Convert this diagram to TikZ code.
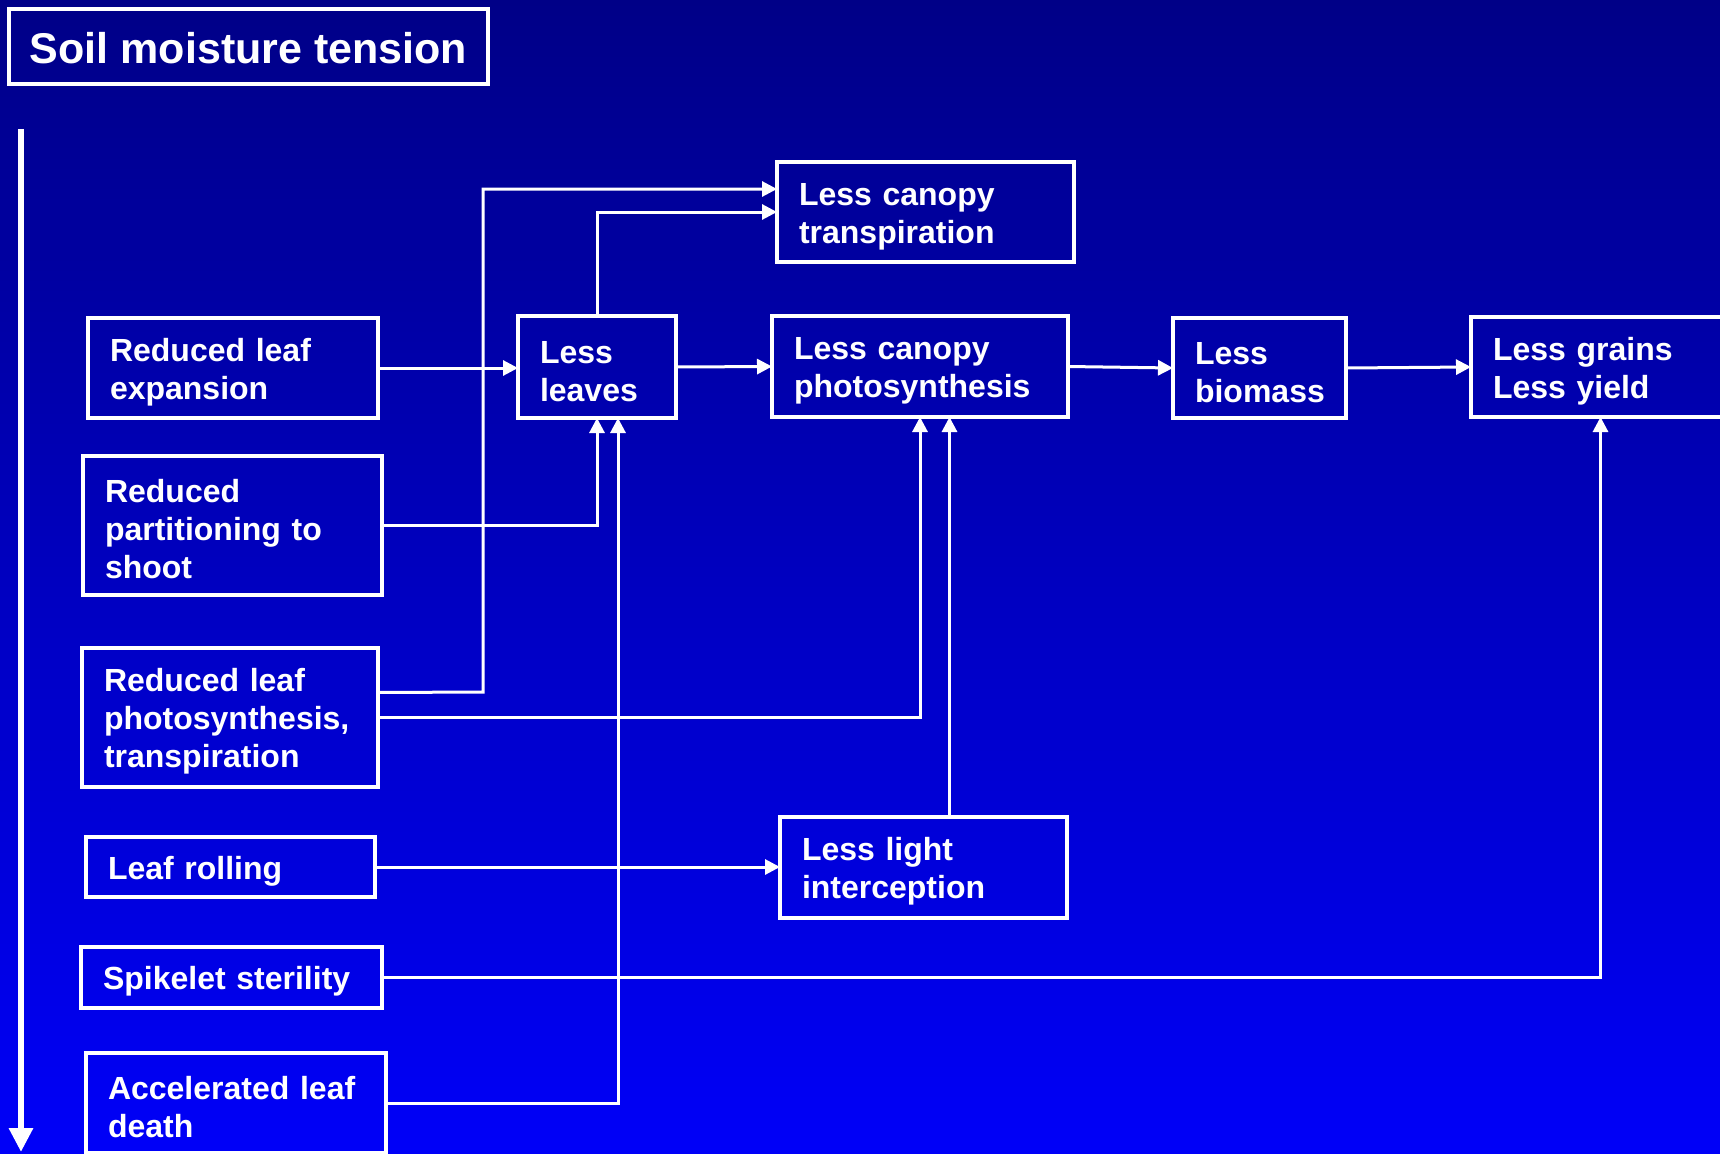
\documentclass[tikz,border=0pt]{standalone}
\usepackage{fontspec}
\setmainfont{Liberation Sans}
\usetikzlibrary{arrows.meta}
\definecolor{bgtop}{RGB}{0,0,135}
\definecolor{bgbot}{RGB}{0,0,248}
\tikzset{
  box/.style={draw=white, line width=3.5pt, text=white, outer sep=0pt,
    inner xsep=22pt, inner ysep=0pt, align=left,
    font=\fontsize{32}{38}\selectfont\bfseries,
    execute at begin node={\rule{0pt}{31pt}}},
  arr/.style={draw=white, line width=3pt, -{Triangle[width=15pt,length=15pt]}},
  bigarr/.style={draw=white, line width=6.5pt, -{Triangle[width=23pt,length=24pt]}},
}
\begin{document}
\begin{tikzpicture}[x=1pt,y=-1pt]
\useasboundingbox (0,0) rectangle (1720,1153);
\shade[top color=bgtop, bottom color=bgbot] (0,0) rectangle (1720,1153);

% title
\node[draw=white, line width=3.5pt, text=white, outer sep=0pt,
  minimum width=479pt, minimum height=75pt,
  font=\fontsize{43}{50}\selectfont\bfseries,
  execute at begin node={\rule{0pt}{35pt}}] (title) at (248.5,46.5) {Soil moisture tension};

% left arrow
\coordinate (ltop) at (21,129);
\coordinate (lbot) at (21,1152);
\draw[bigarr] (ltop) -- (lbot);

% left column
\node[box, minimum width=290pt, minimum height=100pt, text width=246pt] (rle) at (233,368) {Reduced leaf\\expansion};
\node[box, minimum width=299pt, minimum height=139pt, text width=255pt] (rpts) at (232.5,525.5) {Reduced\\partitioning to\\shoot};
\node[box, minimum width=296pt, minimum height=139pt, text width=252pt] (rlp) at (230,717.5) {Reduced leaf\\photosynthesis,\\transpiration};
\node[box, minimum width=289pt, minimum height=60pt, text width=245pt] (lr) at (230.5,867) {Leaf rolling};
\node[box, minimum width=301pt, minimum height=61pt, text width=257pt] (ss) at (231.5,977.5) {Spikelet sterility};
\node[box, minimum width=300pt, minimum height=100pt, text width=256pt] (ald) at (236,1103) {Accelerated leaf\\death};

% other boxes
\node[box, minimum width=297pt, minimum height=100pt, text width=253pt] (ltr) at (925.5,212) {Less canopy\\transpiration};
\node[box, minimum width=158pt, minimum height=102pt, text width=114pt] (ll) at (597,367) {Less\\leaves};
\node[box, minimum width=296pt, minimum height=101pt, text width=252pt] (lcp) at (920,366.5) {Less canopy\\photosynthesis};
\node[box, minimum width=173pt, minimum height=100pt, text width=129pt] (lb) at (1259.5,368) {Less\\biomass};
\node[box, minimum width=259pt, minimum height=100pt, text width=215pt] (lg) at (1600.5,367) {Less grains\\Less yield};
\node[box, minimum width=287pt, minimum height=101pt, text width=243pt] (lli) at (923.5,867.5) {Less light\\interception};

% connectors
\draw[arr] (rle.east) -- (rle.east -| ll.west);
\draw[arr] (ll.east) -- (lcp.west);
\draw[arr] (lcp.east) -- (lb.west);
\draw[arr] (lb.east) -- (lg.west);
\draw[arr] (ll.north) |- (ltr.west);
\coordinate (rlpup) at ([yshift=25pt]rlp.east);
\coordinate (rlpbend) at (483,692);
\draw[arr] (rlpup) -- (rlpbend) |- ([yshift=23pt]ltr.west);
\draw[arr] (rpts.east) -| (ll.south);
\draw[arr] (ald.east) -| ([xshift=21pt]ll.south);
\draw[arr] (rlp.east) -| (lcp.south);
\draw[arr] ([xshift=26pt]lli.north) -- ([xshift=26pt]lli.north |- lcp.south);
\draw[arr] (lr.east) -- (lr.east -| lli.west);
\draw[arr] (ss.east) -| (lg.south);
\end{tikzpicture}
\end{document}
